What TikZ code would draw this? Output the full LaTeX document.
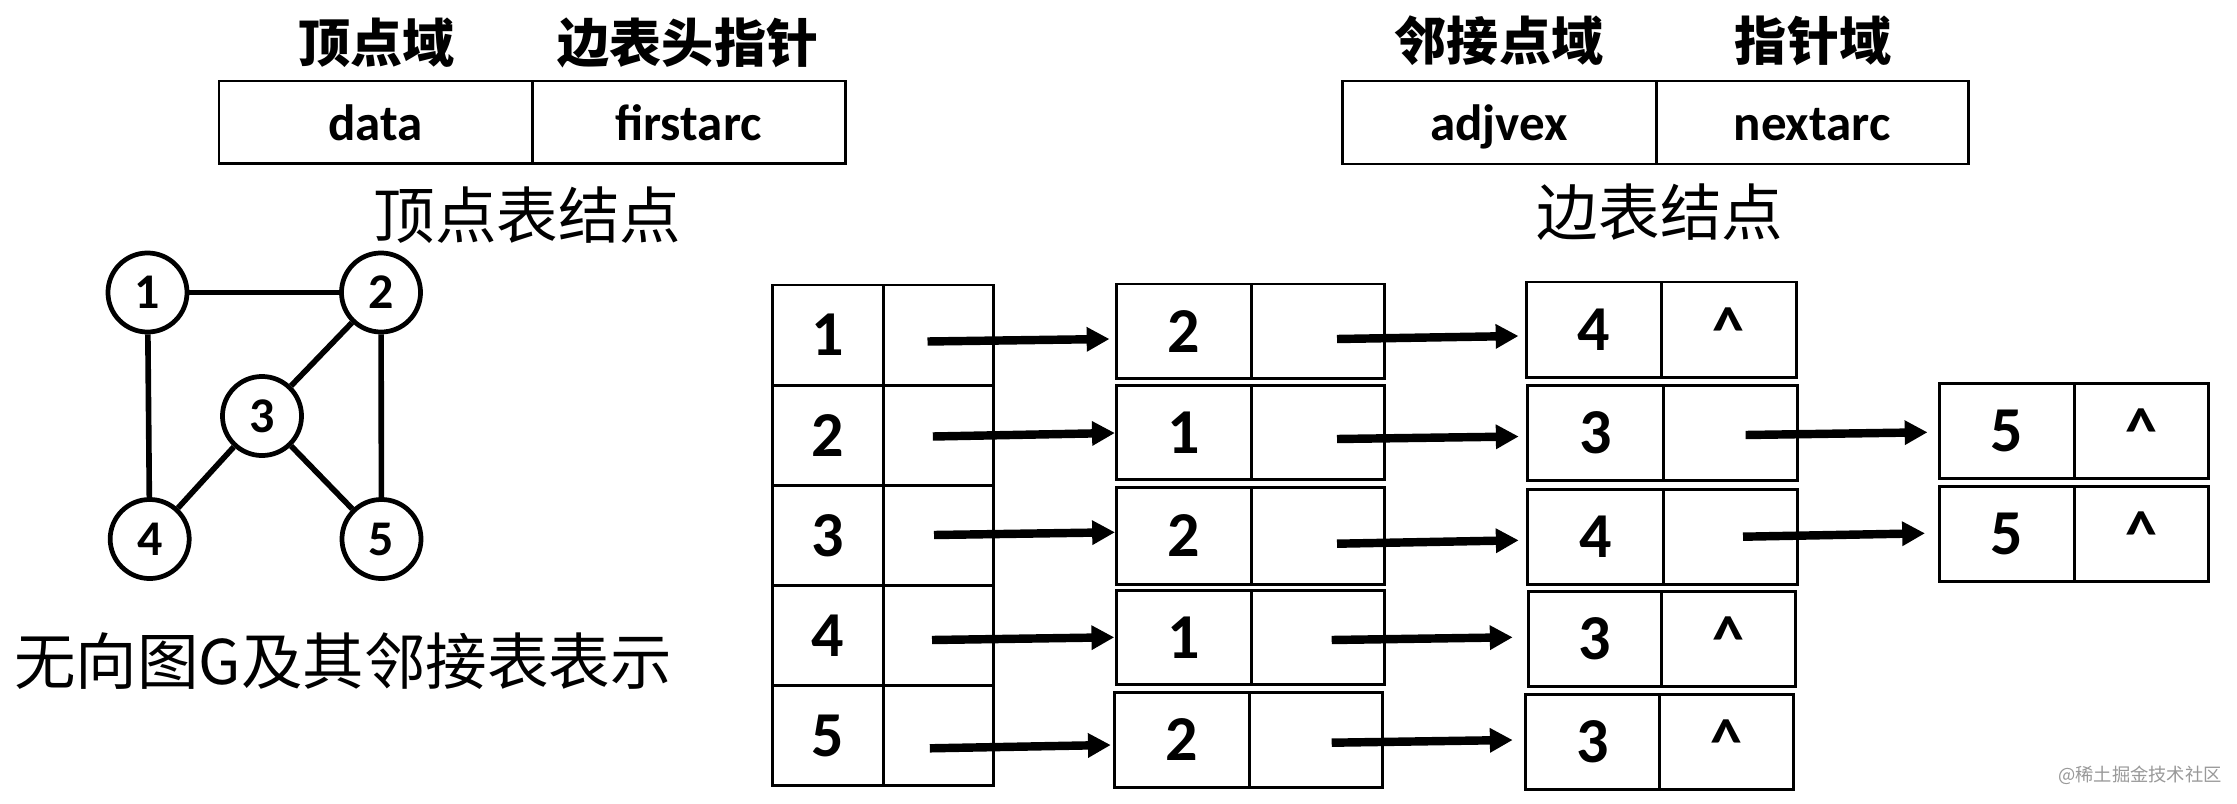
\documentclass[tikz,border=0pt]{standalone}
\usepackage{fontspec}
\setmainfont{Carlito}
\newfontfamily\cjk{Noto Sans CJK SC}
\usetikzlibrary{arrows.meta}
\newcommand{\mkcell}[6]{\node[cellbox, minimum width={(#3-#2)*0.01cm}, minimum height={(#5-#4)*0.01cm}] (#1) at ({(#2+#3)/2},{(#4+#5)/2}) {#6};}
\newcommand{\mkhdr}[6]{\node[hdrbox, minimum width={(#3-#2)*0.01cm}, minimum height={(#5-#4)*0.01cm}] (#1) at ({(#2+#3)/2},{(#4+#5)/2}) {#6};}
\newcommand{\nil}{\vphantom{2}\textasciicircum}
\begin{document}
\begin{tikzpicture}[x=0.01cm,y=-0.01cm,
  cellbox/.style={draw, line width=0.85pt, inner sep=0pt, font=\bfseries\fontsize{18.2pt}{20pt}\selectfont},
  hdrbox/.style={draw, line width=0.85pt, inner sep=0pt, text height=13.2pt, text depth=3pt, font=\bfseries\fontsize{14.5pt}{16pt}\selectfont},
  vtx/.style={circle, draw, line width=1.35pt, minimum size=0.79cm, inner sep=0pt, font=\bfseries\fontsize{14.2pt}{16pt}\selectfont},
  gedge/.style={line width=1.6pt},
  ptr/.style={line width=2.4pt, -{Triangle[length=6.5pt,width=6.6pt]}},
  lbl/.style={font=\cjk\bfseries\fontsize{14.8pt}{16pt}\selectfont, inner sep=0pt},
  captext/.style={font=\cjk\fontsize{17.5pt}{19pt}\selectfont, inner sep=0pt},
  wmark/.style={font=\cjk\fontsize{5.2pt}{6pt}\selectfont, text=black!40, inner sep=0pt},
]
\fill[white] (0,0) rectangle (2237,803);
\useasboundingbox (0,0) rectangle (2237,803);

% header boxes
\mkhdr{hd}{219}{532}{81}{163.5}{data}
\mkhdr{hf}{532}{845}{81}{163.5}{firstarc}
\mkhdr{ha}{1342}{1656}{81}{164}{adjvex}
\mkhdr{hn}{1656}{1968}{81}{164}{nextarc}
\node[lbl] (l1) at (376.5,42.5) {顶点域};
\node[lbl] (l2) at (688,42.5) {边表头指针};
\node[lbl] (l3) at (1499,41) {邻接点域};
\node[lbl] (l4) at (1813,41) {指针域};
\node[captext] (c1) at (527.5,215) {顶点表结点};
\node[captext] (c2) at (1660,212) {边表结点};
\node[captext] (c3) at (343,661.5) {无向图G及其邻接表表示};
\node[wmark] (wm) at (2140,775) {@稀土掘金技术社区};

% graph
\node[vtx] (g1) at (147.5,292.5) {1};
\node[vtx] (g2) at (381,292.5) {2};
\node[vtx] (g3) at (262,416) {3};
\node[vtx] (g4) at (149.7,539) {4};
\node[vtx] (g5) at (381.5,539) {5};
\draw[gedge] (g1) -- (g2);
\draw[gedge] (g1) -- (g4);
\draw[gedge] (g2) -- (g3);
\draw[gedge] (g2) -- (g5);
\draw[gedge] (g3) -- (g4);
\draw[gedge] (g3) -- (g5);

% vertex table
\mkcell{a1}{772.5}{883.5}{285}{385.2}{1}
\mkcell{p1}{883.5}{993.5}{285}{385.2}{}
\mkcell{a2}{772.5}{883.5}{385.2}{485.3}{2}
\mkcell{p2}{883.5}{993.5}{385.2}{485.3}{}
\mkcell{a3}{772.5}{883.5}{485.3}{585.5}{3}
\mkcell{p3}{883.5}{993.5}{485.3}{585.5}{}
\mkcell{a4}{772.5}{883.5}{585.5}{685.6}{4}
\mkcell{p4}{883.5}{993.5}{585.5}{685.6}{}
\mkcell{a5}{772.5}{883.5}{685.6}{785.7}{5}
\mkcell{p5}{883.5}{993.5}{685.6}{785.7}{}

% column B
\mkcell{b1}{1116}{1251}{284}{378.5}{2}
\mkcell{bp1}{1251}{1384}{284}{378.5}{}
\mkcell{b2}{1116}{1251}{385.3}{479.8}{1}
\mkcell{bp2}{1251}{1384}{385.3}{479.8}{}
\mkcell{b3}{1116}{1251}{487.5}{584}{2}
\mkcell{bp3}{1251}{1384}{487.5}{584}{}
\mkcell{b4}{1116.4}{1251}{590}{684.5}{1}
\mkcell{bp4}{1251}{1384.3}{590}{684.5}{}
\mkcell{b5}{1114.3}{1249}{692.3}{787.7}{2}
\mkcell{bp5}{1249}{1382.2}{692.3}{787.7}{}

% column C
\mkcell{c1l}{1526}{1661}{282}{377.5}{4}
\mkcell{c1r}{1661}{1796}{282}{377.5}{\nil}
\mkcell{c2l}{1527.5}{1663}{385.5}{480.5}{3}
\mkcell{c2r}{1663}{1797}{385.5}{480.5}{}
\mkcell{c3l}{1527.5}{1663}{489}{584}{4}
\mkcell{c3r}{1663}{1797}{489}{584}{}
\mkcell{c4l}{1528}{1661.5}{591.5}{686.5}{3}
\mkcell{c4r}{1661.5}{1795}{591.5}{686.5}{\nil}
\mkcell{c5l}{1525.5}{1659.5}{694}{789.5}{3}
\mkcell{c5r}{1659.5}{1793.5}{694}{789.5}{\nil}

% column D
\mkcell{d2l}{1939}{2074}{383}{478.5}{5}
\mkcell{d2r}{2074}{2208}{383}{478.5}{\nil}
\mkcell{d3l}{1939}{2074}{486.5}{581.5}{5}
\mkcell{d3r}{2074}{2208}{486.5}{581.5}{\nil}

% arrow ends
\coordinate (t1a) at (927.5,341.5);  \coordinate (h1a) at (1109.5,339);
\coordinate (t1b) at (1337,339);     \coordinate (h1b) at (1518.5,336);
\coordinate (t2a) at (932.8,436.5);  \coordinate (h2a) at (1114.9,433);
\coordinate (t2b) at (1337,439);     \coordinate (h2b) at (1518.7,436.5);
\coordinate (t2c) at (1745.6,435);   \coordinate (h2c) at (1927.5,432.3);
\coordinate (t3a) at (934,535);      \coordinate (h3a) at (1115,532.3);
\coordinate (t3b) at (1337,543.7);   \coordinate (h3b) at (1518.7,540.3);
\coordinate (t3c) at (1743,536.7);   \coordinate (h3c) at (1925,533.3);
\coordinate (t4a) at (932,640);      \coordinate (h4a) at (1114.3,637.3);
\coordinate (t4b) at (1331.7,640);   \coordinate (h4b) at (1512.7,637.3);
\coordinate (t5a) at (929.8,748.3);  \coordinate (h5a) at (1110.8,745);
\coordinate (t5b) at (1331.7,742.7); \coordinate (h5b) at (1512.7,740);
\foreach \r in {1a,1b,2a,2b,2c,3a,3b,3c,4a,4b,5a,5b}{
  \draw[ptr] (t\r) -- (h\r);
}
\end{tikzpicture}
\end{document}
